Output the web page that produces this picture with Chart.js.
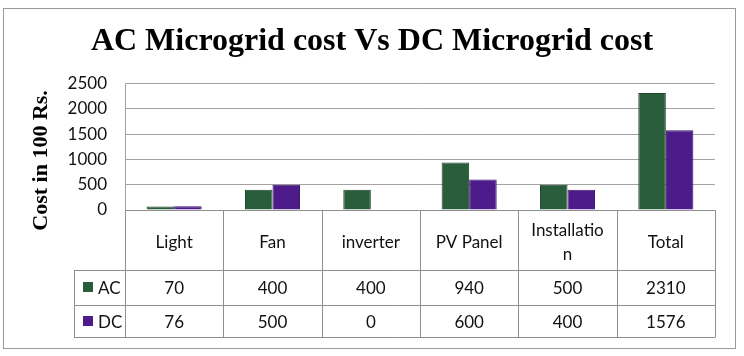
<!DOCTYPE html>
<html>
<head>
<meta charset="utf-8">
<script src="https://cdn.jsdelivr.net/npm/chart.js@4.4.0/dist/chart.umd.min.js"></script>
<style>
  html, body { margin: 0; padding: 0; background: #fff; }
  #wrap { width: 744px; height: 356px; }
</style>
</head>
<body>
<div id="wrap"><canvas id="costChart" width="744" height="356"></canvas></div>
<script>
// values (cost in 100 Rs.)
const categories = ["Light", "Fan", "inverter", "PV Panel", ["Installatio", "n"], "Total"];
const acCost = [70, 400, 400, 940, 500, 2310];
const dcCost = [76, 500, 0, 600, 400, 1576];
const yTicks = [0, 500, 1000, 1500, 2000, 2500];

const tableFont = "17px Lato";
const lineColor = "#8f8f8f";

function px(v) { return Math.round(v) + 0.5; }

// draws the data table under the plot, lined up on the x scale
const dataTable = {
    id: "dataTable",
    afterDraw(chart) {
        const ctx = chart.ctx;
        const xs = chart.scales.x;
        const area = chart.chartArea;
        const n = chart.data.labels.length;
        const top = area.bottom;
        const headBottom = top + 60;
        const row1Bottom = top + 95;
        const bottom = top + 127;
        const legendLeft = area.left - 51;

        ctx.save();
        ctx.strokeStyle = lineColor;
        ctx.lineWidth = 1;
        ctx.beginPath();
        for (const y of [top, headBottom, row1Bottom, bottom]) {
            ctx.moveTo(y == top ? area.left : legendLeft, px(y));
            ctx.lineTo(area.right, px(y));
        }
        for (let i = 0; i <= n; i++) {
            const x = px(xs.getPixelForValue(i - 0.5));
            ctx.moveTo(x, top);
            ctx.lineTo(x, bottom + 0.5);
        }
        ctx.moveTo(px(legendLeft), headBottom);
        ctx.lineTo(px(legendLeft), bottom + 0.5);
        ctx.stroke();

        ctx.font = tableFont;
        ctx.fillStyle = "#111";
        ctx.textAlign = "center";
        ctx.textBaseline = "middle";
        chart.data.labels.forEach((label, i) => {
            const x = xs.getPixelForValue(i);
            const lines = Array.isArray(label) ? label : [label];
            const y0 = top + 33 - (lines.length - 1) * 12;
            lines.forEach((l, k) => ctx.fillText(l, x, y0 + k * 24));
        });

        const rowMids = [top + 79, top + 113];
        chart.data.datasets.forEach((ds, r) => {
            const y = rowMids[r];
            ctx.fillStyle = ds.backgroundColor;
            ctx.fillRect(legendLeft + 9, y - 7, 10, 10);
            ctx.fillStyle = "#111";
            ctx.textAlign = "left";
            ctx.fillText(ds.label, legendLeft + 24, y);
            ctx.textAlign = "center";
            ds.data.forEach((v, i) => ctx.fillText(String(v), xs.getPixelForValue(i), y));
        });

        // outer frame
        ctx.strokeStyle = "#9a9a9a";
        ctx.strokeRect(3.5, 8.5, 732, 340);
        ctx.restore();
    }
};

new Chart("costChart", {
    type: "bar",
    data: {
        labels: categories,
        datasets: [
            {
                label: "AC",
                data: acCost,
                backgroundColor: "#2a5d3b",
                borderColor: "#1d4529",
                borderWidth: 1,
            },
            {
                label: "DC",
                data: dcCost,
                backgroundColor: "#4d1b8a",
                borderColor: "#3d1470",
                borderWidth: 1,
            },
        ],
    },
    options: {
        responsive: false,
        animation: false,
        devicePixelRatio: 1,
        layout: { padding: { top: 0, left: 0, right: 0, bottom: 19 } },
        datasets: {
            bar: { categoryPercentage: 0.56, barPercentage: 1.0 },
        },
        plugins: {
            legend: { display: false },
            tooltip: { enabled: false },
            title: {
                display: true,
                text: "AC Microgrid cost Vs DC Microgrid cost",
                color: "#000",
                font: { family: "Liberation Serif", size: 32, weight: "bold" },
                padding: { top: 23, bottom: 22 },
            },
        },
        scales: {
            x: {
                grid: { display: false },
                border: { display: false },
                ticks: { display: false },
                afterFit(scale) { scale.height = 127; },
            },
            y: {
                min: 0,
                max: 2500,
                afterBuildTicks(scale) { scale.ticks = yTicks.map(v => ({ value: v })); },
                afterFit(scale) { scale.width = 125; },
                grid: { color: "#a3a3a3", drawTicks: false },
                border: { color: "#a3a3a3" },
                ticks: {
                    padding: 18,
                    color: "#111",
                    font: { family: "Lato", size: 17 },
                    callback: v => String(v),
                },
                title: {
                    display: true,
                    text: "Cost in 100 Rs.     ",
                    color: "#000",
                    font: { family: "Liberation Serif", size: 22, weight: "bold" },
                    padding: { top: 28, bottom: 0 },
                },
            },
            yRight: {
                position: "right",
                grid: { display: false },
                border: { display: false },
                ticks: { display: false },
                afterFit(scale) { scale.width = 29; },
            },
        },
    },
    plugins: [dataTable],
});
</script>
</body>
</html>
